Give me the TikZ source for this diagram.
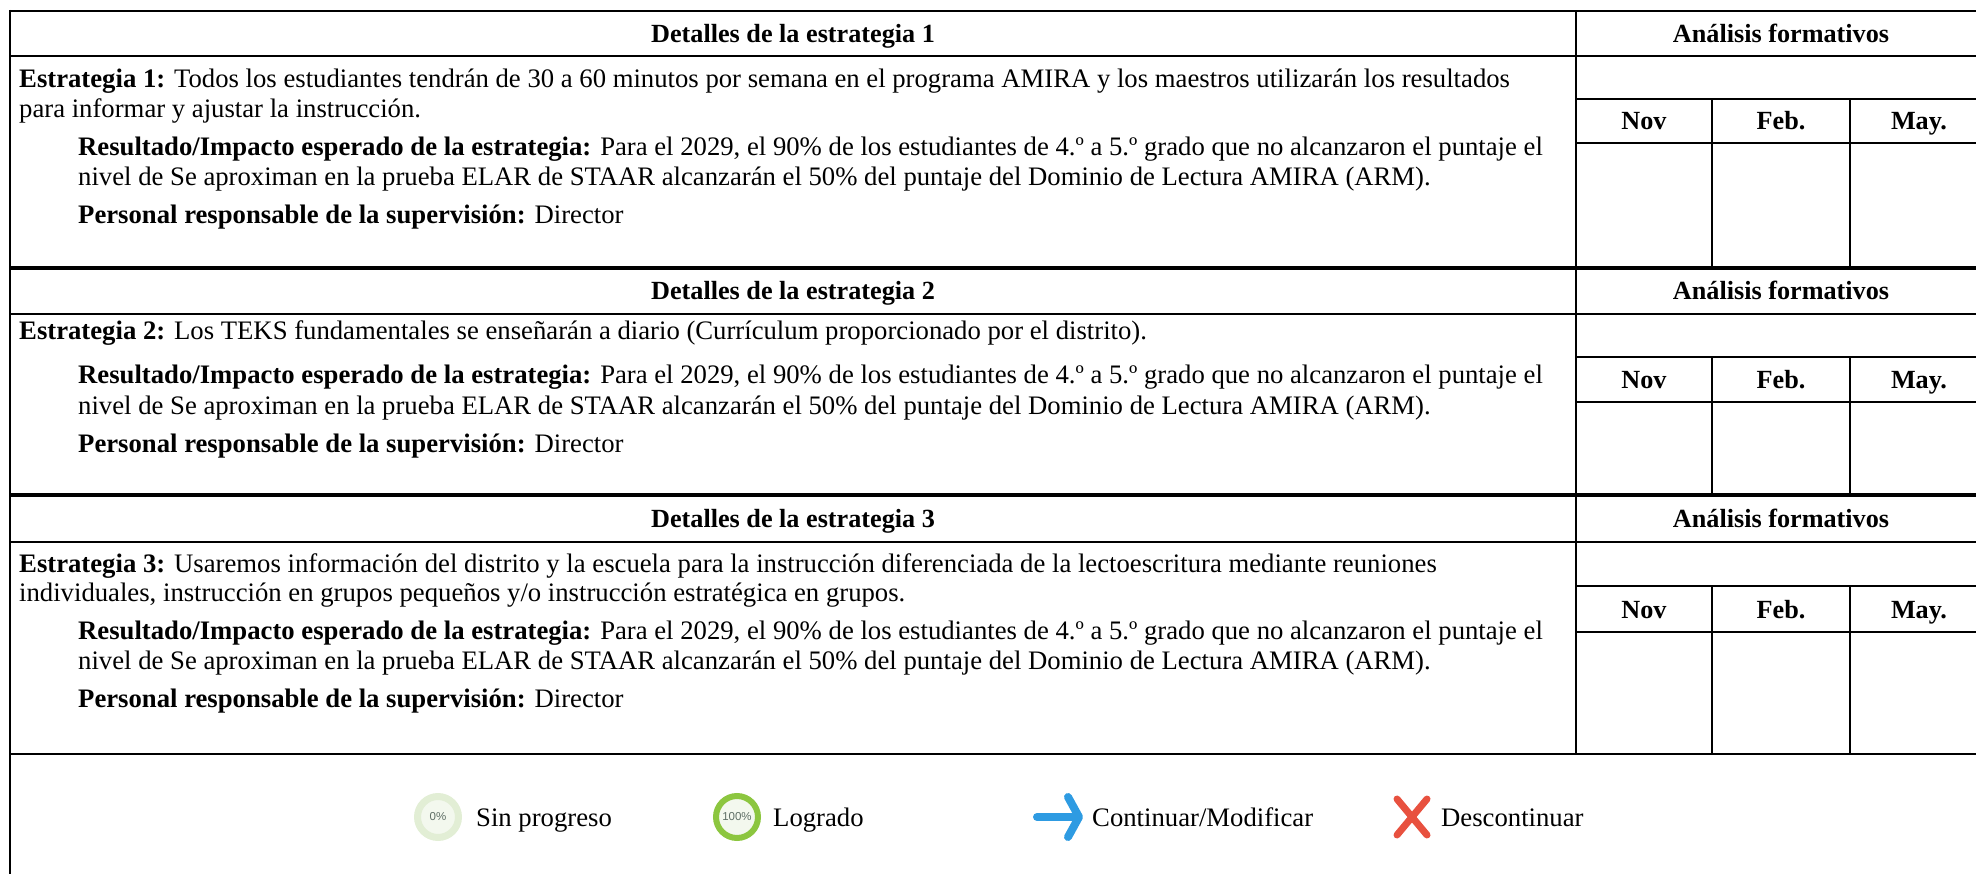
\documentclass[tikz,border=0pt]{standalone}
\usepackage{fontspec}
\setmainfont{Liberation Serif}
\newfontfamily\iconfont{Liberation Sans}
\definecolor{ringpale}{HTML}{E2EED5}
\definecolor{ringfill}{HTML}{F3F8EE}
\definecolor{ringgreen}{HTML}{8CC63F}
\definecolor{arrowblue}{HTML}{2E9BE2}
\definecolor{crossred}{HTML}{E8513F}
\definecolor{icontext}{HTML}{5F6F66}
\begin{document}
\begin{tikzpicture}[x=1pt,y=-1pt,
  every node/.style={inner sep=0pt,font=\fontsize{26.7}{31}\selectfont},
  rule/.style={line width=2pt},
  thickrule/.style={line width=4pt},
  hdr/.style={anchor=base,font=\fontsize{26.2}{31}\selectfont\bfseries},
  txt/.style={anchor=base west},
  ring/.style={circle,line width=#1,minimum size=48pt-#1},
  icon/.style={font=\iconfont\fontsize{11.5}{11.5}\selectfont,text=icontext}]
\useasboundingbox (0,0) rectangle (1976,874);
% outer rules
\draw[rule] (9,11) -- (1990,11);
\draw[rule] (10,10) -- (10,880);
\draw[thickrule] (9,268) -- (1990,268);
\draw[thickrule] (9,495) -- (1990,495);
\draw[rule] (9,754) -- (1990,754);
% sections: top/header/blank/months/end/number
\foreach \t/\h/\b/\n/\e/\k in {11/56/99/143/268/1,268/314/357/402/495/2,495/542/586/632/754/3}
{
\draw[rule] (10,\h) -- (1990,\h);
\draw[rule] (1576,\b) -- (1990,\b);
\draw[rule] (1576,\n) -- (1990,\n);
\draw[rule] (1576,\t) -- (1576,\e);
\draw[rule] (1712,\b) -- (1712,\e);
\draw[rule] (1850,\b) -- (1850,\e);
\node[hdr] (det\k) at (793,{(\t+\h)/2+9}) {Detalles de la estrategia \k};
\node[hdr] (ana\k) at (1781,{(\t+\h)/2+9}) {Análisis formativos};
\node[hdr] (nov\k) at (1644,{(\b+\n)/2+9}) {Nov};
\node[hdr] (feb\k) at (1781,{(\b+\n)/2+9}) {Feb.};
\node[hdr] (may\k) at (1919,{(\b+\n)/2+9}) {May.};
}
% strategy texts
\node[txt] (est1a) at (19,88) {\textbf{Estrategia 1:} Todos los estudiantes tendrán de 30 a 60 minutos por semana en el programa AMIRA y los maestros utilizarán los resultados};
\node[txt] (est1b) at (19,118) {para informar y ajustar la instrucción.};
\node[txt] (est2a) at (19,340) {\textbf{Estrategia 2:} Los TEKS fundamentales se enseñarán a diario (Currículum proporcionado por el distrito).};
\node[txt] (est3a) at (19,572) {\textbf{Estrategia 3:} Usaremos información del distrito y la escuela para la instrucción diferenciada de la lectoescritura mediante reuniones};
\node[txt] (est3b) at (19,601) {individuales, instrucción en grupos pequeños y/o instrucción estratégica en grupos.};
\foreach \k/\y in {1/156,2/384,3/639}
{
\node[txt] (res\k) at (78,\y) {\textbf{Resultado/Impacto esperado de la estrategia:} Para el 2029, el 90\% de los estudiantes de 4.º a 5.º grado que no alcanzaron el puntaje el};
\node[txt] (niv\k) at (78,\y+30) {nivel de Se aproximan en la prueba ELAR de STAAR alcanzarán el 50\% del puntaje del Dominio de Lectura AMIRA (ARM).};
\node[txt] (per\k) at (78,\y+68) {\textbf{Personal responsable de la supervisión:} Director};
}
% legend
\node[ring=7pt,draw=ringpale,fill=ringfill,icon] (sinicon) at (438,817) {0\%};
\node[txt] (sin) at (476,826) {Sin progreso};
\node[ring=6pt,draw=ringgreen,fill=ringfill,icon] (logicon) at (737,817) {100\%};
\node[txt] (log) at (773,826) {Logrado};
\draw[arrowblue,line width=8pt,line cap=round] (1037,817) -- (1077,817);
\draw[arrowblue,line width=8pt,line cap=round,line join=round] (1068,797) -- (1079,817) -- (1068,837);
\node[txt] (con) at (1092,826) {Continuar/Modificar};
\draw[crossred,line width=7pt,line cap=round] (1397,799) -- (1427,835);
\draw[crossred,line width=7pt,line cap=round] (1397,835) -- (1427,799);
\node[txt] (des) at (1441,826) {Descontinuar};
\end{tikzpicture}
\end{document}
